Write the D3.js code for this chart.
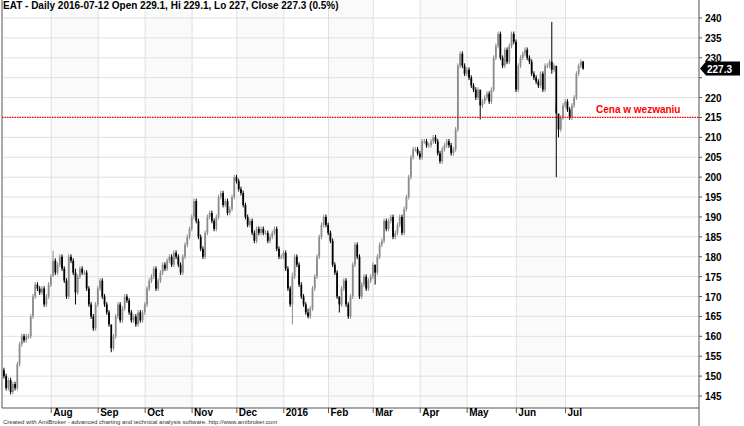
<!DOCTYPE html>
<html><head><meta charset="utf-8">
<script src="https://cdn.jsdelivr.net/npm/d3@7"></script>
<style>body{margin:0;background:#fff}svg{display:block;font-family:Arial,"Liberation Sans",sans-serif}</style>
</head><body><svg id="c" width="744" height="426"></svg>
<script>
const monthLabels = ["Jul","Aug","Sep","Oct","Nov","Dec","2016","Feb","Mar","Apr","May","Jun","Jul"];
const jul15 = [150,147,149,146,148,147,153,158,160,159,160,160,165,170,173,172,171,172,168,170,173,175];
const aug15 = [179,176,178,180,177,174,170,180,179,176,171,175,177,176,176,172,168,165,162,168,172];
const sep15 = [174,170,168,166,163,157,160,165,168,164,167,170,169,166,164,165,163,166,164,166,168];
const oct15 = [172,174,175,177,172,174,176,178,177,179,180,178,181,180,178,176,180,183,185,187,190];
const nov15 = [194,189,185,182,180,186,190,191,189,187,190,195,196,193,194,191,192,195,200,199];
const dec15 = [197,196,193,190,188,189,186,184,187,186,187,186,186,184,185,186,187,182,180,180,181];
const jan16 = [177,172,168,175,180,178,173,170,168,166,165,167,172,175,180,185,188,190,188,186];
const feb16 = [184,178,176,170,168,172,174,168,165,170,178,183,180,170,173,175,172,174,175,178];
const mar16 = [176,180,183,184,189,187,189,190,185,186,188,190,186,192,195,200,205,207,207,206,205];
const apr16 = [209,209,208,208,209,210,209,206,204,207,208,209,208,206,207,212,228,231,228,226,227];
const may16 = [225,223,222,220,222,218,219,220,221,219,222,230,233,236,230,228,232,229,233,236,234,222];
const jun16 = [228,230,231,232,230,229,226,225,224,223,226,222,228,228,229,227,228,216,212,215,218,219];
const jul16 = [217,215,218,220,226,228,229,227.3];
const months = [jul15,aug15,sep15,oct15,nov15,dec15,jan16,feb16,mar16,apr16,may16,jun16,jul16];
// notable wicks: [month index, day index, high, low]
const wicks = [[1,0,181.5,176],[1,10,177,168],[2,5,160,156],[6,3,176,163],[6,10,167,164.5],[7,4,170,166],[8,0,178,173],[10,5,219,214.5],[11,15,239,226],[11,17,218,200],[11,18,214,210]];
const refLevel = 215, refLabel = "Cena w wezwaniu";
const lastClose = 227.3;
const yTicks = [145,150,155,160,165,170,175,180,185,190,195,200,205,210,215,220,225,230,235,240];

const bars = []; const monthStart = [];
months.forEach((m,mi)=>{monthStart.push(bars.length); m.forEach((c,di)=>{
  const o = bars.length ? bars[bars.length-1].c : c+1.5;
  bars.push({c, o, h:Math.max(o,c)+0.6, l:Math.min(o,c)-0.6, mi});});});
wicks.forEach(([mi,di,h,l])=>{const b=bars[monthStart[mi]+di]; b.h=h; b.l=l;});
bars[bars.length-1].o=229.1;bars[bars.length-1].h=229.1;bars[bars.length-1].l=227;

const svg=d3.select("#c");
const L=2,R=699,T=0,B=408;
const x=d3.scaleBand().domain(d3.range(bars.length)).range([3,584]).paddingInner(0.2);
const y=d3.scaleLinear().domain([145,240]).range([396,18]);
svg.append("rect").attr("x",L).attr("y",T).attr("width",R-L).attr("height",B-T).attr("fill","#fafafa");
monthStart.forEach((s,i)=>{ if(i%2===0){const e=i+1<monthStart.length?monthStart[i+1]:bars.length+20;
  svg.append("rect").attr("x",x(s)-1).attr("y",T).attr("width",Math.min(R,(x(e)||R)-1)-(x(s)-1)).attr("height",B).attr("fill","#ffffff");}});
svg.append("g").selectAll("line").data(yTicks).join("line").attr("x1",L).attr("x2",R)
 .attr("y1",d=>y(d)).attr("y2",d=>y(d)).attr("stroke","#e0e0e0");
svg.append("g").selectAll("line").data(monthStart.slice(1)).join("line").attr("x1",d=>x(d)-1).attr("x2",d=>x(d)-1)
 .attr("y1",T).attr("y2",B).attr("stroke","#e0e0e0");
// candles
const g=svg.append("g");
bars.forEach((b,i)=>{const cx=x(i)+x.bandwidth()/2; const col=b.c>=b.o?"#8c8c8c":"#000";
  g.append("line").attr("x1",cx).attr("x2",cx).attr("y1",y(b.h)).attr("y2",y(b.l)).attr("stroke",col).attr("stroke-width",1);
  g.append("rect").attr("x",x(i)).attr("width",x.bandwidth()).attr("y",y(Math.max(b.o,b.c))).attr("height",Math.max(1,Math.abs(y(b.o)-y(b.c)))).attr("fill",col);});
// ref line
svg.append("line").attr("x1",L).attr("x2",R).attr("y1",y(refLevel)).attr("y2",y(refLevel)).attr("stroke","#ff0000").attr("stroke-width",1.3).attr("stroke-dasharray","1.5,1");
svg.append("text").attr("x",596).attr("y",113).attr("fill","#ff0000").attr("font-size",10).attr("font-weight","bold").text(refLabel);
// frame/axes
svg.append("line").attr("x1",R).attr("x2",R).attr("y1",0).attr("y2",426).attr("stroke","#555");
svg.append("line").attr("x1",L).attr("x2",R).attr("y1",B).attr("y2",B).attr("stroke","#555");
svg.append("line").attr("x1",L).attr("x2",L).attr("y1",0).attr("y2",B).attr("stroke","#555");
svg.append("g").selectAll("text").data(yTicks.filter(d=>d!==225)).join("text").attr("x",705).attr("y",d=>y(d)+4).attr("font-size",10).attr("font-weight","bold").attr("fill","#000").text(d=>d);
svg.append("g").selectAll("line").data(yTicks).join("line").attr("x1",R).attr("x2",R+3).attr("y1",d=>y(d)).attr("y2",d=>y(d)).attr("stroke","#555");
monthStart.forEach((s,i)=>{ if(i===0)return; const xx=x(s)-1;
  svg.append("line").attr("x1",xx).attr("x2",xx).attr("y1",B).attr("y2",B+5).attr("stroke","#555");
  svg.append("text").attr("x",xx+2).attr("y",B+8).attr("font-size",10).attr("font-weight","bold").text(monthLabels[i]);});
// last value tag
const ly=y(lastClose);
svg.append("path").attr("d",`M${R+1},${ly} L${R+7},${ly-7} L740,${ly-7} L740,${ly+7} L${R+7},${ly+7} Z`).attr("fill","#000");
svg.append("text").attr("x",707).attr("y",ly+4).attr("fill","#fff").attr("font-size",10).attr("font-weight","bold").text(lastClose);
svg.append("text").attr("x",3).attr("y",9).attr("font-size",10).attr("font-weight","bold").text("EAT - Daily 2016-07-12 Open 229.1, Hi 229.1, Lo 227, Close 227.3 (0.5%)");
svg.append("text").attr("x",3).attr("y",424).attr("font-size",6).attr("fill","#333").text("Created with AmiBroker - advanced charting and technical analysis software. http://www.amibroker.com");
</script></body></html>
